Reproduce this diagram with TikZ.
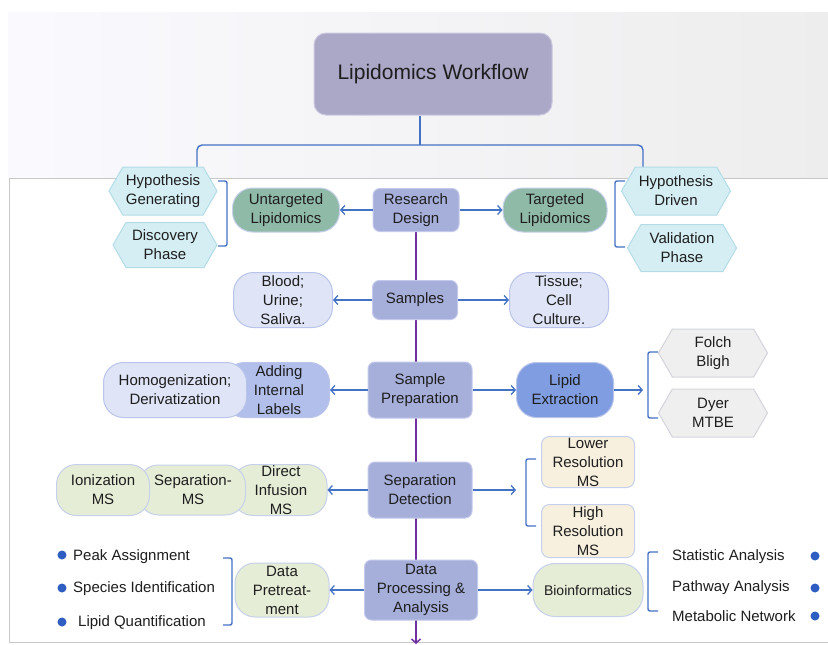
\documentclass[tikz,border=0pt]{standalone}
\usepackage{fontspec}
\setmainfont{Liberation Sans}
\usetikzlibrary{shapes,arrows.meta,backgrounds,positioning}
\definecolor{titlefill}{HTML}{ABA7C6}
\definecolor{titleline}{HTML}{CBC8E0}
\definecolor{stagefill}{HTML}{A6AEDA}
\definecolor{stageline}{HTML}{C3C9EC}
\definecolor{tealfill}{HTML}{90BAA8}
\definecolor{lavfill}{HTML}{DFE4F6}
\definecolor{lavline}{HTML}{B9C4EA}
\definecolor{midblue}{HTML}{B2BFEA}
\definecolor{deepblue}{HTML}{7F9DE0}
\definecolor{cyanfill}{HTML}{D5EEF4}
\definecolor{cyanline}{HTML}{B3DCE7}
\definecolor{greyfill}{HTML}{EFEFEF}
\definecolor{greyline}{HTML}{D3D5DC}
\definecolor{greenfill}{HTML}{E5EDD7}
\definecolor{creamfill}{HTML}{F7F0DF}
\definecolor{softline}{HTML}{C6D0EA}
\definecolor{arrblue}{HTML}{4472C4}
\definecolor{dotblue}{HTML}{2F5EC2}
\definecolor{flowpurple}{HTML}{7030A0}
\definecolor{ink}{HTML}{1E1E1E}
\tikzset{
	basebox/.style={align=center,inner sep=0pt,line width=1pt,text=ink,font=\fontsize{15}{19}\selectfont},
	stage/.style={basebox,rectangle,rounded corners=7pt,fill=stagefill,draw=stageline},
	pill/.style={basebox,rectangle,rounded corners=20pt,draw=softline},
	hexa/.style={basebox,signal,signal to=west and east,signal pointer angle=120},
	msbox/.style={basebox,rectangle,rounded corners=8pt,fill=creamfill,draw=softline},
	arr/.style={->,>={Straight Barb[length=4pt,width=9pt]},color=arrblue,line width=1.3pt},
	flow/.style={->,>={Straight Barb[length=4pt,width=9pt]},color=flowpurple,line width=1.5pt},
	bracket/.style={draw=arrblue,line width=1.4pt,rounded corners=2pt},
	item/.style={anchor=west,inner sep=0pt,text=ink,font=\fontsize{15}{19}\selectfont},
	bullet/.style={circle,fill=dotblue,inner sep=0pt,minimum size=9pt}
}

\begin{document}
\begin{tikzpicture}[x=1pt,y=-1pt]
	\useasboundingbox (0,0) rectangle (828,645);
	
	%%Title
	\node[basebox,rectangle,rounded corners=12pt,fill=titlefill,draw=titleline,minimum width=238pt,minimum height=82pt,font=\fontsize{21}{25}\selectfont] (title) at (433,74) {Lipidomics Workflow};
	
	%%Research design row
	\node[stage,minimum width=86pt,minimum height=43pt] (rd) at (416,210) {Research\\Design};
	\node[pill,fill=tealfill,minimum width=107pt,minimum height=44pt] (untarg) at (286,210) {Untargeted\\Lipidomics};
	\node[pill,fill=tealfill,minimum width=104pt,minimum height=44pt] (targ) at (555,210) {Targeted\\Lipidomics};
	\node[hexa,fill=cyanfill,draw=cyanline,minimum width=108pt,minimum height=48pt] (hypgen) at (163,191) {Hypothesis\\Generating};
	\node[hexa,fill=cyanfill,draw=cyanline,minimum width=104pt,minimum height=45pt] (discov) at (165,245) {Discovery\\Phase};
	\node[hexa,fill=cyanfill,draw=cyanline,minimum width=109pt,minimum height=48pt] (hypdrv) at (676,191) {Hypothesis\\Driven};
	\node[hexa,fill=cyanfill,draw=cyanline,minimum width=109pt,minimum height=47pt] (valid) at (682,248) {Validation\\Phase};
	
	%%Samples row
	\node[stage,minimum width=85pt,minimum height=39pt] (samples) at (415,300) {Samples};
	\node[pill,fill=lavfill,draw=lavline,minimum width=99pt,minimum height=55pt] (blood) at (283,300) {Blood;\\Urine;\\Saliva.};
	\node[pill,fill=lavfill,draw=lavline,minimum width=99pt,minimum height=55pt] (tissue) at (559,300) {Tissue;\\Cell\\Culture.};
	
	%%Sample preparation row
	\node[stage,minimum width=104pt,minimum height=56pt] (prep) at (420,390) {Sample\\Preparation};
	\node[pill,fill=midblue,draw=lavline,minimum width=105pt,minimum height=55pt,text width=60pt] (adding) at (277,390) {\hspace*{4pt}Adding\\\hspace*{4pt}Internal\\\hspace*{4pt}Labels};
	\node[pill,fill=lavfill,draw=lavline,minimum width=143pt,minimum height=55pt] (homog) at (175,390) {Homogenization;\\Derivatization};
	\node[pill,fill=deepblue,draw=lavline,minimum width=97pt,minimum height=55pt] (lipext) at (565,390) {Lipid\\Extraction};
	\node[hexa,fill=greyfill,draw=greyline,minimum width=109pt,minimum height=48pt] (folch) at (713,353) {Folch\\Bligh};
	\node[hexa,fill=greyfill,draw=greyline,minimum width=109pt,minimum height=48pt] (dyer) at (713,413) {Dyer\\MTBE};
	
	%%Separation detection row
	\node[stage,minimum width=104pt,minimum height=56pt] (sepdet) at (420,490) {Separation\\Detection};
	\node[pill,fill=greenfill,minimum width=94pt,minimum height=51pt] (direct) at (280,490) {\hspace*{2pt}Direct\\\hspace*{2pt}Infusion\\\hspace*{2pt}MS};
	\node[pill,fill=greenfill,minimum width=107pt,minimum height=50pt] (sepms) at (192,490) {\hspace*{2pt}Separation-\\\hspace*{2pt}MS};
	\node[pill,fill=greenfill,minimum width=93pt,minimum height=51pt] (ioniz) at (103,490) {Ionization\\MS};
	\node[msbox,minimum width=93pt,minimum height=51pt] (lowres) at (588,462) {Lower\\Resolution\\MS};
	\node[msbox,minimum width=93pt,minimum height=53pt] (highres) at (588,531) {High\\Resolution\\MS};
	
	%%Data processing row
	\node[stage,minimum width=113pt,minimum height=60pt] (dataproc) at (421,590) {Data\\Processing \&\\Analysis};
	\node[pill,fill=greenfill,minimum width=94pt,minimum height=54pt] (pretreat) at (282,590) {Data\\Pretreat-\\ment};
	\node[pill,fill=greenfill,minimum width=110pt,minimum height=53pt,rounded corners=22pt,font=\fontsize{14}{17}\selectfont] (bioinf) at (588,590) {Bioinformatics};
	
	%%Bullet lists
	\node[bullet] (dpeak) at (62,555) {};
	\node[bullet] (dspec) at (62,588) {};
	\node[bullet] (dquant) at (62,622) {};
	\node[item] (peak) at (73,557) {Peak Assignment};
	\node[item] (species) at (73,589) {Species Identification};
	\node[item] (quant) at (78,623) {Lipid Quantification};
	\node[item] (stat) at (672,557) {Statistic Analysis};
	\node[item] (pathway) at (672,588) {Pathway Analysis};
	\node[item] (metab) at (672,616) {Metabolic Network};
	\node[bullet] (dstat) at (815,556) {};
	\node[bullet] (dpath) at (815,588) {};
	\node[bullet] (dmetab) at (815,616) {};
	
	%%Free ends of connectors
	\coordinate (brlip) at (643,390);
	\coordinate (brms) at (516,490);
	\coordinate (stem) at (420,145);
	\coordinate (hgtop) at (197,168);
	\coordinate (hdtop) at (643,168);
	\coordinate (flowend) at (416,644);
	
	%%Background panels, main flow and title brace
	\begin{scope}[on background layer]
		\shade[left color=black!10!blue!2!white,right color=red!3!black!7!white] (8,12) rectangle (828,178);
		\fill[white] (8,178) rectangle (828,642);
		\draw[black!22,line width=0.8pt] (828,178) -- (9,178) -- (9,642) -- (828,642);
		\draw[flow] (rd) -- (flowend);
		\draw[arrblue,line width=1.4pt] (title.south -| stem) -- (stem);
		\draw[arrblue,line width=1.4pt,rounded corners=5pt] (hgtop) -- (hgtop |- stem) -- (hdtop |- stem) -- (hdtop);
	\end{scope}
	
	%%Arrows from the main stages
	\draw[arr] (rd) -- (untarg);
	\draw[arr] (rd) -- (targ);
	\draw[arr] (samples) -- (blood);
	\draw[arr] (samples) -- (tissue);
	\draw[arr] (prep) -- (adding);
	\draw[arr] (prep) -- (lipext);
	\draw[arr] (lipext) -- (brlip);
	\draw[arr] (sepdet) -- (direct);
	\draw[arr] (sepdet) -- (brms);
	\draw[arr] (dataproc) -- (pretreat);
	\draw[arr] (dataproc) -- (bioinf);
	
	%%Brackets
	\draw[bracket] (218,181) -- (227,181) -- (227,246) -- (218,246);
	\draw[bracket] (625,181) -- (615,181) -- (615,247) -- (625,247);
	\draw[bracket] (658,352) -- (648,352) -- (648,418) -- (658,418);
	\draw[bracket] (536,459) -- (526,459) -- (526,526) -- (536,526);
	\draw[bracket] (223,558) -- (232,558) -- (232,625) -- (223,625);
	\draw[bracket] (658,552) -- (648,552) -- (648,611) -- (658,611);
	
\end{tikzpicture}
\end{document}
